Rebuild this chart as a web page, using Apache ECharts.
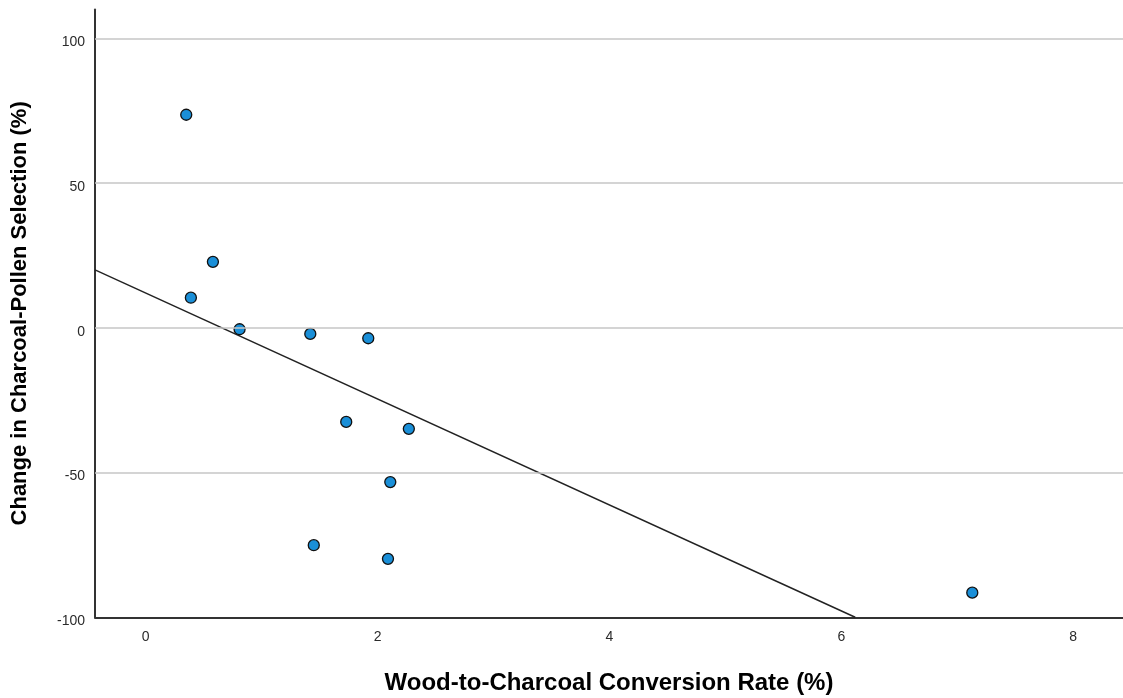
<!DOCTYPE html>
<html>
<head>
<meta charset="utf-8">
<script src="https://cdn.jsdelivr.net/npm/echarts@6/dist/echarts.min.js"></script>
<style>
html,body{margin:0;padding:0;background:#fff;}
#chart{width:1123px;height:698px;}
</style>
</head>
<body>
<div id="chart"></div>
<script>
// Data
const conversionRate = [0.35, 0.58, 0.39, 0.81, 1.42, 1.92, 1.73, 2.27, 2.11, 1.45, 2.09, 7.13];
const selectionChange = [73.6, 22.8, 10.4, -0.5, -2.1, -3.6, -32.5, -34.9, -53.3, -75.1, -79.8, -91.5];
// Fit line endpoints (x, y)
const fitX = [-0.437, 6.12];
const fitY = [20.0, -100];
const xTicks = [0, 2, 4, 6, 8];
const yTicks = [-100, -50, 0, 50, 100];
const xTitle = 'Wood-to-Charcoal Conversion Rate (%)';
const yTitle = 'Change in Charcoal-Pollen Selection (%)';

const points = conversionRate.map((x, i) => [x, selectionChange[i]]);
const fitLine = fitX.map((x, i) => [x, fitY[i]]);

const chart = echarts.init(document.getElementById('chart'), null, {renderer: 'canvas'});
const labelFont = {color: '#2b2b2b', fontFamily: 'Liberation Sans, Arial, sans-serif', fontSize: 14};
chart.setOption({
  animation: false,
  backgroundColor: '#ffffff',
  grid: {left: 95, right: 0, top: 9.4, bottom: 80.7, containLabel: false, outerBoundsMode: 'none'},
  xAxis: {
    type: 'value', min: -0.437, max: 8.43,
    name: xTitle, nameLocation: 'middle', nameGap: 54,
    nameTextStyle: {color: '#000', fontWeight: 'bold', fontSize: 24, fontFamily: 'Liberation Sans, Arial, sans-serif'},
    axisLine: {show: true, onZero: false, lineStyle: {color: '#333', width: 2}},
    splitLine: {show: false},
    axisLabel: Object.assign({
      margin: 13,
      customValues: xTicks,
      formatter: v => String(v)
    }, labelFont),
    axisTick: {show: false, customValues: xTicks}
  },
  yAxis: {
    type: 'value', min: -100, max: 110,
    name: yTitle, nameLocation: 'middle', nameGap: 64, nameRotate: 90,
    nameTextStyle: {color: '#000', fontWeight: 'bold', fontSize: 22, fontFamily: 'Liberation Sans, Arial, sans-serif'},
    axisLine: {show: true, onZero: false, lineStyle: {color: '#333', width: 2}},
    axisTick: {show: false, customValues: yTicks},
    splitLine: {show: false},
    axisLabel: Object.assign({
      margin: 10,
      customValues: yTicks,
      verticalAlign: 'top',
      padding: [-3, 0, 0, 0],
      formatter: v => String(v)
    }, labelFont)
  },
  series: [
    {
      type: 'line',
      data: yTicks.filter(v => v !== -100).map(v => [-0.437, v]),
      silent: true, symbol: 'none', lineStyle: {opacity: 0},
      markLine: {
        silent: true, symbol: 'none', label: {show: false},
        lineStyle: {color: '#c6c6c6', width: 1.5, type: 'solid'},
        data: yTicks.filter(v => v !== -100).map(v => ({yAxis: v}))
      },
      z: 1
    },
    {
      type: 'line',
      data: fitLine,
      symbol: 'none',
      lineStyle: {color: '#222', width: 1.5},
      z: 3
    },
    {
      type: 'scatter',
      data: points,
      symbol: 'circle',
      symbolSize: 11,
      itemStyle: {color: '#1a8fd8', borderColor: '#111', borderWidth: 1.3, opacity: 1},
      z: 4
    }
  ]
});
</script>
</body>
</html>
